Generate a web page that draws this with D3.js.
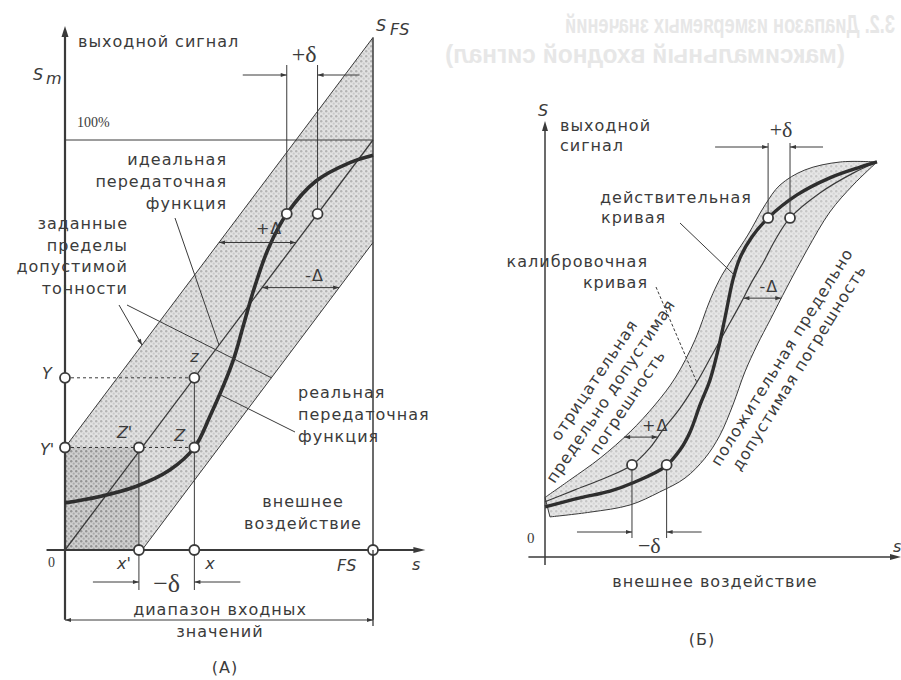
<!DOCTYPE html>
<html>
<head>
<meta charset="utf-8">
<script src="https://cdn.jsdelivr.net/npm/d3@7"></script>
<style>
  body { margin: 0; background: #fff; }
  svg text { font-family: "DejaVu Sans", sans-serif; fill: #3b3b3b; }
  .lbl { font-size: 16px; letter-spacing: 1px; }
  .it { font-style: italic; font-size: 16px; }
  .ser { font-family: "Liberation Serif", serif; }
  .ghost { font-family: "Liberation Sans", sans-serif; font-weight: bold; font-size: 26px; }
</style>
</head>
<body>
<svg id="fig" width="901" height="680"></svg>
<script>
// ---------- (A) transfer function, units: % of FS ----------
const idealA = [[0, 0], [100, 100]];
const upperA = [[0, 25], [100, 125]];   // +Δ limit
const lowerA = [[25, 0], [100, 75]];    // -Δ limit
const realA = [[0, 11.5], [11, 13], [23, 15.5], [34, 19.5], [42, 25], [47, 32.5], [54.5, 46],
               [58, 55], [61.5, 64], [66, 73.5], [72, 82], [81.5, 90], [92.5, 94.5], [100, 96.3]];
const inputMarksA = [24, 42, 100];      // x', x, FS
const outputMarksA = [25, 42];          // Y', Y
const deltaLevelA = 82;                 // output level where +δ is shown
const plusDeltaLevelA = 75, minusDeltaLevelA = 64;

// ---------- (Б) calibration curve ----------
const negLimitB = [[0, 15], [7.5, 19.4], [16.6, 24.9], [25.6, 31.5], [33.1, 38.3], [39.2, 45.1], [45.2, 54.7],
                   [49.7, 64.7], [53.3, 71], [57.2, 76.1], [61.1, 81.1], [66.3, 88.7], [70.8, 93.7],
                   [78.3, 97.5], [88.9, 99.5], [100, 99.5]];
const posLimitB = [[1.5, 10.1], [13.6, 11.3], [25.6, 13.1], [34.6, 16.4], [42.2, 19.9], [48.2, 24.9],
                   [52.7, 30.7], [56.6, 38.3], [60.2, 46.6], [63.9, 53.4], [67.8, 59.7], [72.9, 68],
                   [78.9, 77.3], [85.8, 86.9], [92.8, 93.7], [100, 99.5]];
const calibB = [[0, 13.9], [9, 16.9], [18.1, 19.9], [26.2, 23.2], [31.6, 27.5], [35.5, 32], [40.7, 37.5],
                [45.8, 44.1], [50.3, 50.9], [54.5, 57.2], [58.7, 63.5], [62.3, 69.3], [65.7, 74.1],
                [69.3, 79.8], [73.8, 85.4], [82.8, 91.7], [92.8, 96.7], [100, 99.5]];
const actualB = [[0, 12.6], [10.5, 14.9], [19.6, 16.6], [27.1, 18.9], [36.1, 22.7], [40.7, 27], [43.7, 31.5],
                 [46.7, 38.3], [49.7, 44.6], [52.1, 52.1], [54.2, 60.2], [56.6, 69.8], [58.7, 75.3],
                 [62.3, 80.6], [67.2, 85.4], [75.9, 91.2], [85.8, 95.5], [94.9, 98.2], [100, 99.5]];
const deltaLevelsB = [23.2, 85.4];      // -δ low, +δ high
const plusDeltaLevelB = 30.2, minusDeltaLevelB = 65.2;

const svg = d3.select("#fig");
const ink = "#3a3a3a";

// faint, mirrored bleed-through of the book page heading
[["3.2. Диапазон измеряемых значений", 730, 33, 330], ["(максимальный входной сигнал)", 645, 63, 400]]
  .forEach(([s, cx, y, w]) => {
    svg.append("g").attr("transform", `translate(${cx},${y}) scale(-1,1)`)
      .append("text").attr("class", "ghost").attr("text-anchor", "middle")
      .attr("textLength", w).attr("lengthAdjust", "spacingAndGlyphs")
      .style("fill", "#e7e7e7").text(s);
  });

// patterns + arrow marker
const defs = svg.append("defs");
function dots(id, bg, c1, c2) {
  const p = defs.append("pattern").attr("id", id).attr("width", 5).attr("height", 5)
    .attr("patternUnits", "userSpaceOnUse");
  p.append("rect").attr("width", 5).attr("height", 5).attr("fill", bg);
  p.append("circle").attr("cx", 1.2).attr("cy", 1.2).attr("r", 1.2).attr("fill", c1);
  p.append("circle").attr("cx", 3.7).attr("cy", 3.7).attr("r", 1.1).attr("fill", c2);
}
dots("dotsA", "#e2e2e2", "#b4b4b4", "#c9c9c9");
dots("dotsDark", "#cfcfcf", "#949494", "#aaaaaa");
dots("dotsB", "#e6e6e6", "#c6c6c6", "#d6d6d6");
defs.append("marker").attr("id", "arr").attr("viewBox", "0 0 10 10").attr("refX", 10).attr("refY", 5)
  .attr("markerWidth", 10).attr("markerHeight", 6).attr("markerUnits", "userSpaceOnUse")
  .attr("orient", "auto-start-reverse")
  .append("path").attr("d", "M0,1.5L10,5L0,8.5z").attr("fill", ink);

function xAtY(pts, y) {
  for (let i = 0; i < pts.length - 1; i++) {
    const a = pts[i], b = pts[i + 1];
    if ((a[1] - y) * (b[1] - y) <= 0) return a[0] + (b[0] - a[0]) * (y - a[1]) / (b[1] - a[1]);
  }
  return pts[pts.length - 1][0];
}
function seg(g, x1, y1, x2, y2, w, dash) {
  return g.append("line").attr("x1", x1).attr("y1", y1).attr("x2", x2).attr("y2", y2)
    .attr("stroke", ink).attr("stroke-width", w || 1).attr("stroke-dasharray", dash || null);
}
function arrow(g, x1, y1, x2, y2, both) {
  const l = seg(g, x1, y1, x2, y2, 1).attr("marker-end", "url(#arr)");
  if (both) l.attr("marker-start", "url(#arr)");
  return l;
}
function txt(g, x, y, s, cls, anchor) {
  return g.append("text").attr("x", x).attr("y", y).attr("class", cls || "lbl")
    .attr("text-anchor", anchor || "start").text(s);
}
function ring(g, x, y) {
  g.append("circle").attr("cx", x).attr("cy", y).attr("r", 5)
    .attr("fill", "#fff").attr("stroke", ink).attr("stroke-width", 1.8);
}

// ======================= (A) =======================
const xA = d3.scaleLinear().domain([0, 100]).range([65, 373]);
const yA = d3.scaleLinear().domain([0, 100]).range([550, 140]);
const lineA = d3.line().x(d => xA(d[0])).y(d => yA(d[1]));
const gA = svg.append("g");
const [xp, xv, fs] = inputMarksA;
const [yp, yv] = outputMarksA;

// tolerance band
const bandA = [[0, 0], upperA[0], upperA[1], lowerA[1], lowerA[0]];
gA.append("path").attr("d", lineA(bandA) + "Z").attr("fill", "url(#dotsA)");
gA.append("path").attr("d", lineA([[0, 0], [0, yp], [xp, yp], [xp, 0]]) + "Z").attr("fill", "url(#dotsDark)");
gA.append("path").attr("d", lineA(upperA)).attr("stroke", ink).attr("stroke-width", 1).attr("fill", "none");
gA.append("path").attr("d", lineA(lowerA)).attr("stroke", ink).attr("stroke-width", 1).attr("fill", "none");
gA.append("path").attr("d", lineA(idealA)).attr("stroke", ink).attr("stroke-width", 1.3).attr("fill", "none");

// axes and frame
seg(gA, xA(0), yA(-17), xA(0), 30, 2.2);
gA.append("path").attr("d", `M${xA(0)},26 l-3.5,11 l7,0z`).attr("fill", ink);
seg(gA, xA(-6), yA(0), xA(115), yA(0), 2.2);
gA.append("path").attr("d", `M${xA(117)},${yA(0)} l-12,-3 l0,6z`).attr("fill", ink);
seg(gA, xA(fs), yA(-17), xA(fs), yA(upperA[1][1]), 1.5);
seg(gA, xA(0), yA(100), xA(fs), yA(100), 1);

// guides for x, x', Y, Y'
seg(gA, xA(0), yA(yv), xA(xv), yA(yv), 1, "3,3");
seg(gA, xA(0), yA(yp), xA(xv), yA(yp), 1, "3,3");
seg(gA, xA(xv), yA(yv), xA(xv), 590, 1);
seg(gA, xA(xp), yA(yp), xA(xp), 590, 1);

// real transfer function
gA.append("path").attr("d", lineA.curve(d3.curveCatmullRom.alpha(0.5))(realA))
  .attr("stroke", "#2e2e2e").attr("stroke-width", 3.6).attr("fill", "none");
lineA.curve(d3.curveLinear);

// +δ at the top
const rx = xAtY(realA, deltaLevelA), ix = deltaLevelA;
seg(gA, xA(rx), yA(deltaLevelA), xA(rx), 65, 1);
seg(gA, xA(ix), yA(deltaLevelA), xA(ix), 65, 1);
arrow(gA, xA(rx) - 44, 75, xA(rx), 75);
arrow(gA, xA(ix) + 42, 75, xA(ix), 75);
txt(gA, (xA(rx) + xA(ix)) / 2 + 2, 62, "+δ", "ser", "middle").attr("font-size", 24);

// ±Δ
arrow(gA, xA(plusDeltaLevelA - 25), yA(plusDeltaLevelA), xA(plusDeltaLevelA), yA(plusDeltaLevelA), true);
txt(gA, xA(plusDeltaLevelA - 13), yA(plusDeltaLevelA) - 9, "+Δ", "lbl").attr("font-size", 13);
arrow(gA, xA(minusDeltaLevelA), yA(minusDeltaLevelA), xA(minusDeltaLevelA + 25), yA(minusDeltaLevelA), true);
txt(gA, xA(minusDeltaLevelA + 14), yA(minusDeltaLevelA) - 7, "-Δ", "lbl").attr("font-size", 13);

// points
ring(gA, xA(rx), yA(deltaLevelA));
ring(gA, xA(ix), yA(deltaLevelA));
ring(gA, xA(0), yA(yv));
ring(gA, xA(0), yA(yp));
ring(gA, xA(xv), yA(yv));
ring(gA, xA(xp), yA(yp));
ring(gA, xA(xv), yA(yp));
ring(gA, xA(xp), yA(0));
ring(gA, xA(xv), yA(0));
ring(gA, xA(fs), yA(0));

// -δ at the bottom
arrow(gA, xA(xp) - 46, 582, xA(xp), 582);
arrow(gA, xA(xv) + 46, 582, xA(xv), 582);
txt(gA, (xA(xp) + xA(xv)) / 2, 592, "−δ", "ser", "middle").attr("font-size", 26);

// range of inputs
seg(gA, xA(fs), yA(0), xA(fs), 626, 1.3);
arrow(gA, xA(0), 620, xA(fs), 620, true);
txt(gA, 220, 615, "диапазон входных", "lbl", "middle");
txt(gA, 220, 637, "значений", "lbl", "middle");

// leaders
seg(gA, 175, 218, xA(50), yA(50), 1);
arrow(gA, 119, 305, xA(25), yA(50));
seg(gA, 127, 305, xA(67), yA(42), 1);
const rlx = xAtY(realA, 38);
seg(gA, 295, 432, xA(rlx), yA(38), 1);

// labels
txt(gA, 78, 47, "выходной сигнал");
txt(gA, 33, 80, "S", "it").attr("font-size", 21);
txt(gA, 46, 84, "m", "it").attr("font-size", 10);
txt(gA, 77, 127, "100%", "ser").attr("font-size", 14);
txt(gA, 376, 31, "S", "it").attr("font-size", 23);
txt(gA, 390, 35, "FS", "it").attr("font-size", 9);
["идеальная", "передаточная", "функция"].forEach((s, i) => txt(gA, 227, 165 + 22 * i, s, "lbl", "end"));
["заданные", "пределы", "допустимой", "тонности"].forEach((s, i) => txt(gA, 128, 229 + 21.5 * i, s, "lbl", "end"));
["реальная", "передаточная", "функция"].forEach((s, i) => txt(gA, 298, 398 + 22 * i, s));
txt(gA, 303, 507, "внешнее", "lbl", "middle");
txt(gA, 303, 529, "воздействие", "lbl", "middle");
txt(gA, 42, 379, "Y", "it");
txt(gA, 40, 455, "Y'", "it");
txt(gA, xA(xv) - 4, 362, "z", "it");
txt(gA, xA(xp) - 22, 438, "Z'", "it");
txt(gA, xA(xv) - 20, 441, "Z", "it");
txt(gA, 48, 567, "0", "ser").attr("font-size", 14);
txt(gA, xA(xp) - 22, 569, "x'", "it");
txt(gA, xA(xv) + 11, 569, "x", "it");
txt(gA, xA(fs) - 36, 571, "FS", "it");
txt(gA, 412, 570, "s", "it").attr("font-size", 18);
txt(gA, 225, 673, "(A)", "lbl", "middle").attr("font-size", 23).attr("letter-spacing", 0);

// ======================= (Б) =======================
const xB = d3.scaleLinear().domain([0, 100]).range([545, 877]);
const yB = d3.scaleLinear().domain([0, 100]).range([557, 160]);
const lineB = d3.line().x(d => xB(d[0])).y(d => yB(d[1])).curve(d3.curveCatmullRom.alpha(0.5));
const gB = svg.append("g");

const bandPath = lineB(negLimitB) + "L" + lineB(posLimitB.slice().reverse()).slice(1) + "Z";
gB.append("path").attr("d", bandPath).attr("fill", "url(#dotsB)").attr("stroke", ink).attr("stroke-width", 1);
gB.append("path").attr("d", lineB(calibB)).attr("fill", "none").attr("stroke", ink).attr("stroke-width", 1.2);
gB.append("path").attr("d", lineB(actualB)).attr("fill", "none").attr("stroke", "#2e2e2e").attr("stroke-width", 3.4);

// axes
seg(gB, xB(0), yB(-2), xB(0), 127, 1.5);
gB.append("path").attr("d", `M${xB(0)},121 l-3,10 l6,0z`).attr("fill", ink);
seg(gB, xB(-5), yB(0), 896, yB(0), 1.5);
gB.append("path").attr("d", `M901,${yB(0)} l-11,-3 l0,6z`).attr("fill", ink);

// δ markers
const [lowLv, highLv] = deltaLevelsB;
const cLow = xAtY(calibB, lowLv), aLow = xAtY(actualB, lowLv);
const aHigh = xAtY(actualB, highLv), cHigh = xAtY(calibB, highLv);
seg(gB, xB(cLow), yB(lowLv), xB(cLow), 538, 1);
seg(gB, xB(aLow), yB(lowLv), xB(aLow), 538, 1);
arrow(gB, xB(cLow) - 55, 532, xB(cLow), 532);
arrow(gB, xB(aLow) + 35, 532, xB(aLow), 532);
txt(gB, (xB(cLow) + xB(aLow)) / 2, 553, "−δ", "ser", "middle").attr("font-size", 22);
seg(gB, xB(aHigh), yB(highLv), xB(aHigh), 143, 1);
seg(gB, xB(cHigh), yB(highLv), xB(cHigh), 143, 1);
arrow(gB, xB(aHigh) - 53, 147, xB(aHigh), 147);
arrow(gB, xB(cHigh) + 33, 147, xB(cHigh), 147);
txt(gB, (xB(aHigh) + xB(cHigh)) / 2 + 2, 137, "+δ", "ser", "middle").attr("font-size", 22);
[[cLow, lowLv], [aLow, lowLv], [aHigh, highLv], [cHigh, highLv]].forEach(p => ring(gB, xB(p[0]), yB(p[1])));

// ±Δ
arrow(gB, xB(xAtY(calibB, minusDeltaLevelB)), yB(minusDeltaLevelB), xB(xAtY(posLimitB, minusDeltaLevelB)), yB(minusDeltaLevelB), true);
txt(gB, xB(xAtY(calibB, minusDeltaLevelB)) + 16, yB(minusDeltaLevelB) - 6, "-Δ", "lbl").attr("font-size", 13);
arrow(gB, xB(xAtY(negLimitB, plusDeltaLevelB)), yB(plusDeltaLevelB), xB(xAtY(calibB, plusDeltaLevelB)), yB(plusDeltaLevelB), true);
txt(gB, xB(xAtY(negLimitB, plusDeltaLevelB)) + 18, yB(plusDeltaLevelB) - 6, "+Δ", "lbl").attr("font-size", 13);

// leaders
seg(gB, 680, 223, xB(xAtY(actualB, 71)), yB(71), 1);
seg(gB, 656, 287, xB(xAtY(calibB, 44)), yB(44), 1, "3,2");

// labels
txt(gB, 538, 116, "S", "it").attr("font-size", 21);
txt(gB, 560, 131, "выходной");
txt(gB, 560, 151, "сигнал");
txt(gB, 600, 203, "действительная");
txt(gB, 601, 223, "кривая");
txt(gB, 648, 267, "калибровочная", "lbl", "end");
txt(gB, 648, 288, "кривая", "lbl", "end");
txt(gB, 527, 543, "0", "ser").attr("font-size", 15);
txt(gB, 893, 552, "s", "it").attr("font-size", 18);
txt(gB, 715, 587, "внешнее воздействие", "lbl", "middle");
txt(gB, 702, 645, "(Б)", "lbl", "middle").attr("font-size", 23).attr("letter-spacing", 0);

const negText = gB.append("g").attr("transform", "translate(612,392) rotate(-56)");
["отрицательная", "предельно допустимая", "погрешность"].forEach((s, i) =>
  txt(negText, 0, -16 + 20 * i, s, "lbl", "middle"));
const posText = gB.append("g").attr("transform", "translate(790,362) rotate(-58)");
["положительная предельно", "допустимая погрешность"].forEach((s, i) =>
  txt(posText, 0, -4 + 20 * i, s, "lbl", "middle"));
</script>
</body>
</html>
